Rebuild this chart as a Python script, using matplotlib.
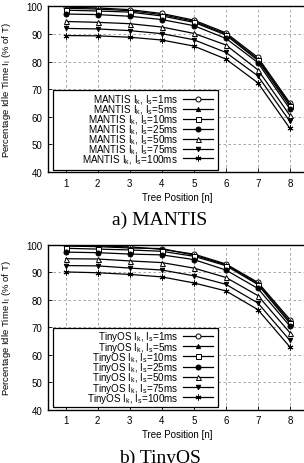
import matplotlib
matplotlib.use("Agg")
import matplotlib.pyplot as plt
from matplotlib.patches import Rectangle

plt.rcParams['font.family'] = ['Liberation Sans', 'DejaVu Sans']
plt.rcParams['mathtext.fontset'] = 'custom'
plt.rcParams['mathtext.rm'] = 'Liberation Sans'
plt.rcParams['mathtext.it'] = 'Liberation Sans'

positions = [1, 2, 3, 4, 5, 6, 7, 8]
ls_labels = ["1ms", "5ms", "10ms", "25ms", "50ms", "75ms", "100ms"]

mantis_1 = [99.7, 99.4, 98.8, 97.4, 95.0, 90.4, 81.5, 65.0]
mantis_5 = [99.3, 99.0, 98.4, 97.0, 94.6, 90.0, 80.9, 64.5]
mantis_10 = [98.6, 98.3, 97.9, 96.5, 94.2, 89.6, 80.4, 63.8]
mantis_25 = [97.2, 97.0, 96.4, 95.2, 93.0, 88.4, 79.6, 62.8]
mantis_50 = [94.5, 94.2, 93.7, 92.5, 90.2, 86.0, 77.0, 60.5]
mantis_75 = [92.0, 91.8, 91.2, 90.1, 87.9, 83.3, 74.8, 58.3]
mantis_100 = [89.4, 89.3, 88.8, 87.8, 85.6, 80.9, 72.3, 55.8]

tiny_1 = [99.8, 99.6, 99.2, 98.3, 96.6, 93.0, 86.3, 72.8]
tiny_5 = [99.5, 99.3, 98.8, 98.6, 96.2, 92.7, 85.9, 72.1]
tiny_10 = [98.7, 98.4, 98.1, 97.6, 95.8, 92.4, 85.5, 71.4]
tiny_25 = [97.3, 97.1, 96.6, 96.3, 94.6, 90.8, 84.1, 70.4]
tiny_50 = [94.9, 94.8, 94.1, 93.5, 91.5, 88.1, 81.5, 68.0]
tiny_75 = [92.4, 92.3, 91.5, 90.8, 88.7, 85.6, 78.8, 65.2]
tiny_100 = [90.1, 89.8, 89.2, 88.3, 86.1, 83.2, 76.4, 62.8]

mantis_series = [mantis_1, mantis_5, mantis_10, mantis_25, mantis_50, mantis_75, mantis_100]
tiny_series = [tiny_1, tiny_5, tiny_10, tiny_25, tiny_50, tiny_75, tiny_100]

markers = ['o', '^', 's', 'o', '^', 'v', (6, 2, 0)]
fills = ['white', 'black', 'white', 'black', 'white', 'black', 'black']
msizes = [3.6, 3.0, 3.6, 3.6, 3.6, 3.2, 4.2]

W, H = 304, 464
fig = plt.figure(figsize=(W / 100, H / 100), dpi=100)


def make_panel(top_px, bot_px, series, system, caption, cap_y, xlab_y):
    left_px = 48
    xmin, xmax = 0.45, 8.5
    width_px = (xmax - xmin) * 32.04
    ax = fig.add_axes([left_px / W, 1 - bot_px / H, width_px / W, (bot_px - top_px) / H])
    for vals, m, fc, ms, lab in zip(series, markers, fills, msizes, ls_labels):
        ax.plot(positions, vals, color='black', lw=0.9, marker=m, markersize=ms,
                markerfacecolor=fc, markeredgecolor='black', markeredgewidth=0.7,
                label=system + r" I$_\mathrm{k}$, I$_\mathrm{s}$=" + lab)
    ax.set_xlim(xmin, xmax)
    ax.set_ylim(40, 100)
    ax.set_xticks(positions)
    ax.set_yticks([40, 50, 60, 70, 80, 90, 100])
    ax.grid(True, color='#999999', linestyle=(0, (3, 3)), linewidth=0.6)
    ax.tick_params(direction='in', length=3, width=0.6, labelsize=7.0, pad=4,
                   top=False, right=False)
    for s in ax.spines.values():
        s.set_linewidth(1.0)
    ax.spines['right'].set_visible(False)
    ax.set_ylabel(r"Percentage Idle Time I$_\mathrm{I}$ (% of T)", fontsize=6.8)
    ax.yaxis.set_label_coords(-0.137, 0.5)
    # legend frame (gnuplot style, wider than its content)
    ax.add_patch(Rectangle((0.0194, 0.014), 0.6396, 0.483, transform=ax.transAxes,
                           facecolor='white', edgecolor='black', linewidth=0.9, zorder=4))
    leg = ax.legend(loc='center right', bbox_to_anchor=(0.640, 0.258), borderaxespad=0,
                    markerfirst=False, fontsize=7.1, handlelength=3.1, handletextpad=0.45,
                    labelspacing=-0.38, borderpad=0.0, frameon=False)
    leg.set_zorder(5)
    fig.text(177 / W, 1 - xlab_y / H, "Tree Position [n]", ha='center', va='center', fontsize=7.0)
    fig.text(160 / W, 1 - cap_y / H, caption, ha='center', va='center', fontsize=14,
             family='Liberation Serif')
    return ax


make_panel(7.3, 173, mantis_series, "MANTIS", "a) MANTIS", 220, 197.7)
make_panel(245.7, 410.7, tiny_series, "TinyOS", "b) TinyOS", 458.5, 435)

fig.savefig("out.png", dpi=100)
